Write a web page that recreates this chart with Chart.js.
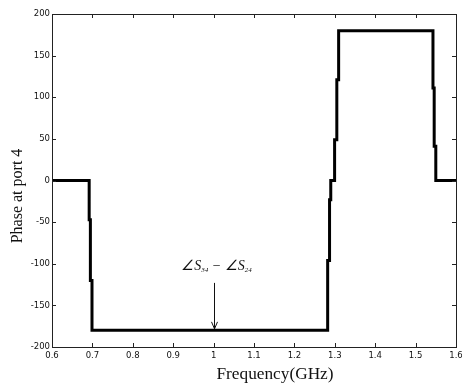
<!DOCTYPE html>
<html>
<head>
<meta charset="utf-8">
<script src="https://cdn.jsdelivr.net/npm/chart.js@4/dist/chart.umd.min.js"></script>
<style>
  html, body { margin: 0; padding: 0; background: #fff; }
  #wrap { width: 462px; height: 385px; }
</style>
</head>
<body>
<div id="wrap"><canvas id="c" width="462" height="385"></canvas></div>
<script>
// Frequency (GHz) and phase (degrees)
const freqGHz = [0.6, 0.692, 0.692, 0.695, 0.695, 0.699, 0.699, 1.281, 1.281, 1.283, 1.283, 1.287, 1.287, 1.290, 1.290, 1.2995, 1.2995, 1.305, 1.305, 1.3095, 1.3095, 1.543, 1.543, 1.546, 1.546, 1.550, 1.550, 1.6];
const phaseDeg = [0, 0, -47, -47, -120, -120, -180, -180, -168, -168, -96, -96, -23, -23, 0, 0, 49, 49, 121, 121, 180, 180, 111, 111, 41, 41, 0, 0];
const xTicks = [0.6, 0.7, 0.8, 0.9, 1.0, 1.1, 1.2, 1.3, 1.4, 1.5, 1.6];
const yTicks = [-200, -150, -100, -50, 0, 50, 100, 150, 200];
const xTitle = 'Frequency(GHz)';
const yTitle = 'Phase at port 4';
const annotation = { x: 1.0, yText: -108, yArrowTop: -123, yArrowTip: -180 };

const points = freqGHz.map((f, i) => ({ x: f, y: phaseDeg[i] }));

const framePlugin = {
  id: 'frame',
  afterDraw(chart) {
    const ctx = chart.ctx;
    const a = chart.chartArea;
    const xs = chart.scales.x, ys = chart.scales.y;
    ctx.save();
    ctx.strokeStyle = '#222';
    ctx.lineWidth = 1;
    ctx.strokeRect(Math.round(a.left) + 0.5, Math.round(a.top) + 0.5, Math.round(a.right - a.left), Math.round(a.bottom - a.top));
    const tl = 4;
    ctx.beginPath();
    xTicks.forEach(v => {
      const px = Math.round(xs.getPixelForValue(v)) + 0.5;
      ctx.moveTo(px, a.bottom); ctx.lineTo(px, a.bottom - tl);
      ctx.moveTo(px, a.top); ctx.lineTo(px, a.top + tl);
    });
    yTicks.forEach(v => {
      const py = Math.round(ys.getPixelForValue(v)) + 0.5;
      ctx.moveTo(a.left, py); ctx.lineTo(a.left + tl, py);
      ctx.moveTo(a.right, py); ctx.lineTo(a.right - tl, py);
    });
    ctx.stroke();

    // axis titles
    ctx.fillStyle = '#111';
    ctx.font = '16px "Liberation Serif", "Times New Roman", serif';
    ctx.textAlign = 'center';
    ctx.textBaseline = 'middle';
    ctx.save();
    ctx.translate(275, 375);
    ctx.scale(1.08, 1);
    ctx.fillText(xTitle, 0, 0);
    ctx.restore();
    ctx.save();
    ctx.translate(18, 196);
    ctx.rotate(-Math.PI / 2);
    ctx.fillText(yTitle, 0, 0);
    ctx.restore();

    // annotation arrow
    const ax = Math.round(xs.getPixelForValue(annotation.x)) + 0.5;
    const ayTop = ys.getPixelForValue(annotation.yArrowTop);
    const ayTip = ys.getPixelForValue(annotation.yArrowTip) - 1.5;
    ctx.strokeStyle = '#111';
    ctx.lineWidth = 1;
    ctx.beginPath();
    ctx.moveTo(ax, ayTop); ctx.lineTo(ax, ayTip);
    ctx.moveTo(ax - 3, ayTip - 7); ctx.lineTo(ax, ayTip); ctx.lineTo(ax + 3, ayTip - 7);
    ctx.stroke();

    // annotation text: ∠S34 − ∠S24
    const ty = ys.getPixelForValue(annotation.yText);
    const big = 'italic 14px "Liberation Serif", "Times New Roman", serif';
    const small = 'italic 7px "Liberation Serif", "Times New Roman", serif';
    const parts = [
      { t: '\u2220S', f: big, dy: 0 },
      { t: '34', f: small, dy: 2 },
      { t: ' \u2212 ', f: big, dy: 0 },
      { t: '\u2220S', f: big, dy: 0 },
      { t: '24', f: small, dy: 2 }
    ];
    let total = 0;
    parts.forEach(p => { ctx.font = p.f; p.w = ctx.measureText(p.t).width; total += p.w; });
    let cx = 216.5 - total / 2;
    ctx.textAlign = 'left';
    ctx.textBaseline = 'alphabetic';
    parts.forEach(p => { ctx.font = p.f; ctx.fillText(p.t, cx, ty + p.dy); cx += p.w; });
    ctx.restore();
  }
};

new Chart(document.getElementById('c'), {
  type: 'line',
  data: {
    datasets: [{
      data: points,
      borderColor: '#000',
      backgroundColor: '#000',
      borderWidth: 3,
      pointRadius: 0,
      tension: 0,
      fill: false,
      borderJoinStyle: 'miter',
      borderCapStyle: 'butt'
    }]
  },
  options: {
    responsive: false,
    animation: false,
    devicePixelRatio: 1,
    parsing: true,
    layout: { padding: { left: 0, top: 14, right: 6, bottom: 0 } },
    plugins: { legend: { display: false }, tooltip: { enabled: false }, title: { display: false } },
    scales: {
      x: {
        type: 'linear',
        min: 0.6, max: 1.6,
        afterBuildTicks(scale) { scale.ticks = xTicks.map(v => ({ value: v })); },
        afterFit(scale) { scale.height = 38; scale.paddingLeft = 0; scale.paddingRight = 0; },
        grid: { display: false, drawTicks: false },
        border: { display: false },
        ticks: {
          padding: 4,
          maxRotation: 0,
          autoSkip: false,
          color: '#111',
          font: { family: '"DejaVu Sans", sans-serif', size: 8.5 },
          callback: v => String(Number(v.toFixed(1)))
        }
      },
      y: {
        type: 'linear',
        min: -200, max: 200,
        afterBuildTicks(scale) { scale.ticks = yTicks.map(v => ({ value: v })); },
        afterFit(scale) { scale.width = 52; scale.paddingTop = 0; scale.paddingBottom = 0; },
        grid: { display: false, drawTicks: false },
        border: { display: false },
        ticks: {
          padding: 2,
          autoSkip: false,
          color: '#111',
          font: { family: '"DejaVu Sans", sans-serif', size: 8.5 },
          callback: v => String(v)
        }
      }
    }
  },
  plugins: [framePlugin]
});
</script>
</body>
</html>
